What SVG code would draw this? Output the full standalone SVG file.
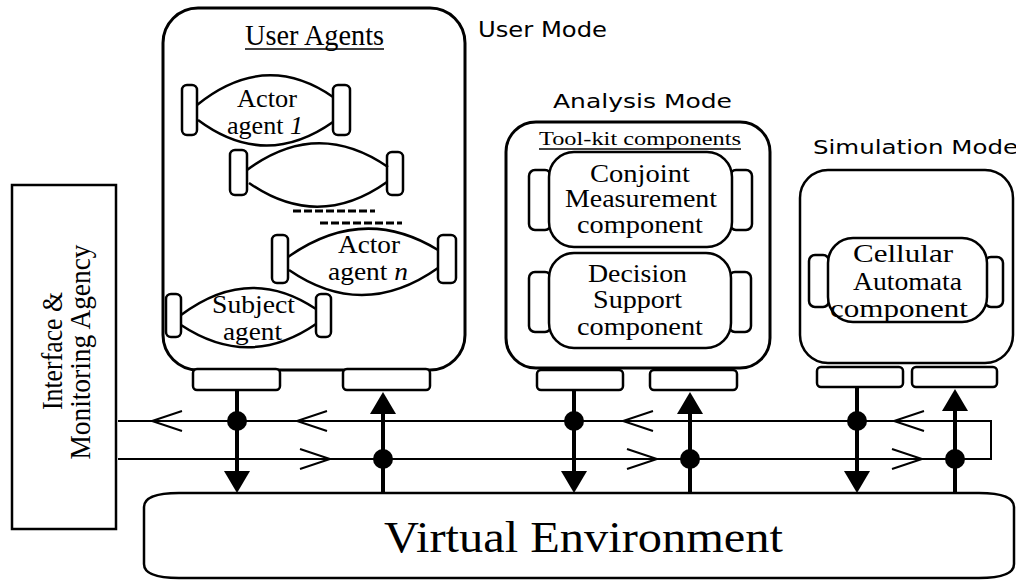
<svg xmlns="http://www.w3.org/2000/svg" width="1016" height="580" viewBox="0 0 1016 580">
<defs>
<style>
.box{fill:#fff;stroke:#000;stroke-width:3}
.thin{fill:#fff;stroke:#000;stroke-width:2.5}
.side{fill:#fff;stroke:#000;stroke-width:2.5}
.lens{fill:none;stroke:#000;stroke-width:2.5}
.port{fill:#fff;stroke:#000;stroke-width:2.5}
.serif{font-family:"Liberation Serif","Times New Roman",serif;fill:#000}
.sans{font-family:"DejaVu Sans","Liberation Sans",sans-serif;fill:#000}
.bus{fill:none;stroke:#000;stroke-width:2}
.chev{fill:none;stroke:#000;stroke-width:2}
.vline{stroke:#000;stroke-width:4}
.dot{fill:#000}
.dash{stroke:#000;stroke-width:3;stroke-dasharray:8 3}
</style>
<marker id="ah" viewBox="0 0 22 26" refX="12" refY="13" markerWidth="22" markerHeight="26" orient="auto" markerUnits="userSpaceOnUse">
<path d="M0,0 L22,13 L0,26 z" fill="#000"/>
</marker>
</defs>
<rect width="1016" height="580" fill="#fff"/>

<g id="interface">
<rect x="12" y="185" width="104" height="344" class="thin"/>
<g transform="rotate(-90)">
<text x="-351" y="62" class="serif" font-size="30" text-anchor="middle" textLength="118" lengthAdjust="spacingAndGlyphs">Interface &amp;</text>
<text x="-352" y="90" class="serif" font-size="30" text-anchor="middle" textLength="215" lengthAdjust="spacingAndGlyphs">Monitoring Agency</text>
</g>
</g>

<g id="user-mode">
<text x="478" y="37" class="sans" font-size="21" textLength="129" lengthAdjust="spacingAndGlyphs">User Mode</text>
<rect x="163" y="8" width="302" height="362" rx="35" class="box"/>
<text x="245" y="45" class="serif" font-size="29" textLength="139" lengthAdjust="spacingAndGlyphs">User Agents</text>
<line x1="245" y1="49" x2="384" y2="49" stroke="#000" stroke-width="1.5"/>
<rect x="193" y="369" width="87" height="21" rx="4" class="port"/>
<rect x="343" y="369" width="87" height="21" rx="4" class="port"/>
</g>

<g id="actor-agent-1">
<rect x="182" y="85" width="15" height="50" rx="5" class="side"/>
<rect x="333" y="85" width="17" height="50" rx="5" class="side"/>
<path d="M197,105 Q265,50 333,97 M198,120 Q265,170 333,122" class="lens"/>
<text x="237" y="107" class="serif" font-size="26" textLength="60" lengthAdjust="spacingAndGlyphs">Actor</text>
<text x="227" y="134" class="serif" font-size="26" textLength="76" lengthAdjust="spacingAndGlyphs">agent <tspan font-style="italic">1</tspan></text>
</g>

<g id="actor-agent-2">
<rect x="230" y="150" width="17" height="45" rx="5" class="side"/>
<rect x="387" y="152" width="16" height="43" rx="5" class="side"/>
<path d="M247,170 Q317,118 388,167 M249,183 Q318,231 387,182" class="lens"/>
</g>

<g id="ellipsis">
<line x1="293" y1="211" x2="375" y2="211" class="dash"/>
<line x1="320" y1="223" x2="402" y2="223" class="dash"/>
</g>

<g id="actor-agent-n">
<rect x="272" y="235" width="16" height="48" rx="5" class="side"/>
<rect x="438" y="235" width="18" height="48" rx="5" class="side"/>
<path d="M288,257 Q363,204 438,250 M289,270 Q363,321 438,268" class="lens"/>
<text x="338" y="253" class="serif" font-size="26" textLength="62" lengthAdjust="spacingAndGlyphs">Actor</text>
<text x="328" y="280" class="serif" font-size="26" textLength="80" lengthAdjust="spacingAndGlyphs">agent <tspan font-style="italic">n</tspan></text>
</g>

<g id="subject-agent">
<rect x="166" y="294" width="15" height="43" rx="5" class="side"/>
<rect x="316" y="294" width="15" height="43" rx="5" class="side"/>
<path d="M181,315 Q249,264 316,309 M181,325 Q249,370 316,324" class="lens"/>
<text x="212" y="313" class="serif" font-size="26" textLength="83" lengthAdjust="spacingAndGlyphs">Subject</text>
<text x="223" y="340" class="serif" font-size="26" textLength="59" lengthAdjust="spacingAndGlyphs">agent</text>
</g>

<g id="analysis-mode">
<text x="553" y="108" class="sans" font-size="19" textLength="179" lengthAdjust="spacingAndGlyphs">Analysis Mode</text>
<rect x="506" y="122" width="264" height="246" rx="30" class="box"/>
<text x="539" y="145" class="serif" font-size="18" textLength="202" lengthAdjust="spacingAndGlyphs">Tool-kit components</text>
<line x1="539" y1="149" x2="741" y2="149" stroke="#000" stroke-width="1.5"/>
<rect x="537" y="370" width="86" height="20" rx="4" class="port"/>
<rect x="650" y="370" width="87" height="20" rx="4" class="port"/>
</g>

<g id="conjoint-component">
<rect x="529" y="170" width="22" height="60" rx="6" class="side"/>
<rect x="730" y="170" width="22" height="60" rx="6" class="side"/>
<rect x="549" y="152" width="183" height="95" rx="25" class="thin"/>
<text x="590" y="182" class="serif" font-size="25" textLength="100" lengthAdjust="spacingAndGlyphs">Conjoint</text>
<text x="565" y="207" class="serif" font-size="25" textLength="152" lengthAdjust="spacingAndGlyphs">Measurement</text>
<text x="577" y="233" class="serif" font-size="25" textLength="126" lengthAdjust="spacingAndGlyphs">component</text>
</g>

<g id="decision-component">
<rect x="529" y="272" width="22" height="60" rx="6" class="side"/>
<rect x="729" y="272" width="22" height="60" rx="6" class="side"/>
<rect x="549" y="253" width="182" height="95" rx="25" class="thin"/>
<text x="588" y="282" class="serif" font-size="25" textLength="99" lengthAdjust="spacingAndGlyphs">Decision</text>
<text x="593" y="308" class="serif" font-size="25" textLength="89" lengthAdjust="spacingAndGlyphs">Support</text>
<text x="577" y="335" class="serif" font-size="25" textLength="126" lengthAdjust="spacingAndGlyphs">component</text>
</g>

<g id="simulation-mode">
<text x="813" y="154" class="sans" font-size="19" textLength="205" lengthAdjust="spacingAndGlyphs">Simulation Mode</text>
<rect x="800" y="170" width="213" height="193" rx="28" class="thin"/>
<rect x="817" y="367" width="86" height="20" rx="4" class="port"/>
<rect x="912" y="367" width="85" height="20" rx="4" class="port"/>
</g>

<g id="cellular-component">
<rect x="809" y="255" width="20" height="52" rx="6" class="side"/>
<rect x="985" y="257" width="18" height="50" rx="6" class="side"/>
<rect x="828" y="238" width="159" height="84" rx="25" class="thin"/>
<text x="853" y="262" class="serif" font-size="25" textLength="100" lengthAdjust="spacingAndGlyphs">Cellular</text>
<text x="853" y="290" class="serif" font-size="25" textLength="109" lengthAdjust="spacingAndGlyphs">Automata</text>
<text x="830" y="317" class="serif" font-size="25" textLength="138" lengthAdjust="spacingAndGlyphs">component</text>
</g>

<g id="virtual-environment">
<path d="M179,493 H979 Q1014,493 1014,507 V564 Q1014,578 979,578 H179 Q144,578 144,564 V507 Q144,493 179,493 Z" class="thin"/>
<text x="384" y="552" class="serif" font-size="44" textLength="399" lengthAdjust="spacingAndGlyphs">Virtual Environment</text>
</g>

<g id="connectors">
<path d="M118,421 H991 V459 H118" class="bus"/>
<path d="M182,411 L152,421 L182,431 M327,411 L297,421 L327,431 M653,411 L623,421 L653,431 M924,411 L894,421 L924,431" class="chev"/>
<path d="M300,449 L330,459 L300,469 M627,449 L657,459 L627,469 M892,449 L922,459 L892,469" class="chev"/>
<line x1="237" y1="390" x2="237" y2="483" class="vline" marker-end="url(#ah)"/>
<line x1="574" y1="390" x2="574" y2="483" class="vline" marker-end="url(#ah)"/>
<line x1="857" y1="387" x2="857" y2="483" class="vline" marker-end="url(#ah)"/>
<line x1="383" y1="493" x2="383" y2="402" class="vline" marker-end="url(#ah)"/>
<line x1="690" y1="493" x2="690" y2="402" class="vline" marker-end="url(#ah)"/>
<line x1="955" y1="493" x2="955" y2="399" class="vline" marker-end="url(#ah)"/>
<circle cx="237" cy="421" r="10" class="dot"/>
<circle cx="574" cy="421" r="10" class="dot"/>
<circle cx="857" cy="421" r="10" class="dot"/>
<circle cx="383" cy="459" r="10" class="dot"/>
<circle cx="690" cy="459" r="10" class="dot"/>
<circle cx="955" cy="459" r="10" class="dot"/>
</g>
</svg>
